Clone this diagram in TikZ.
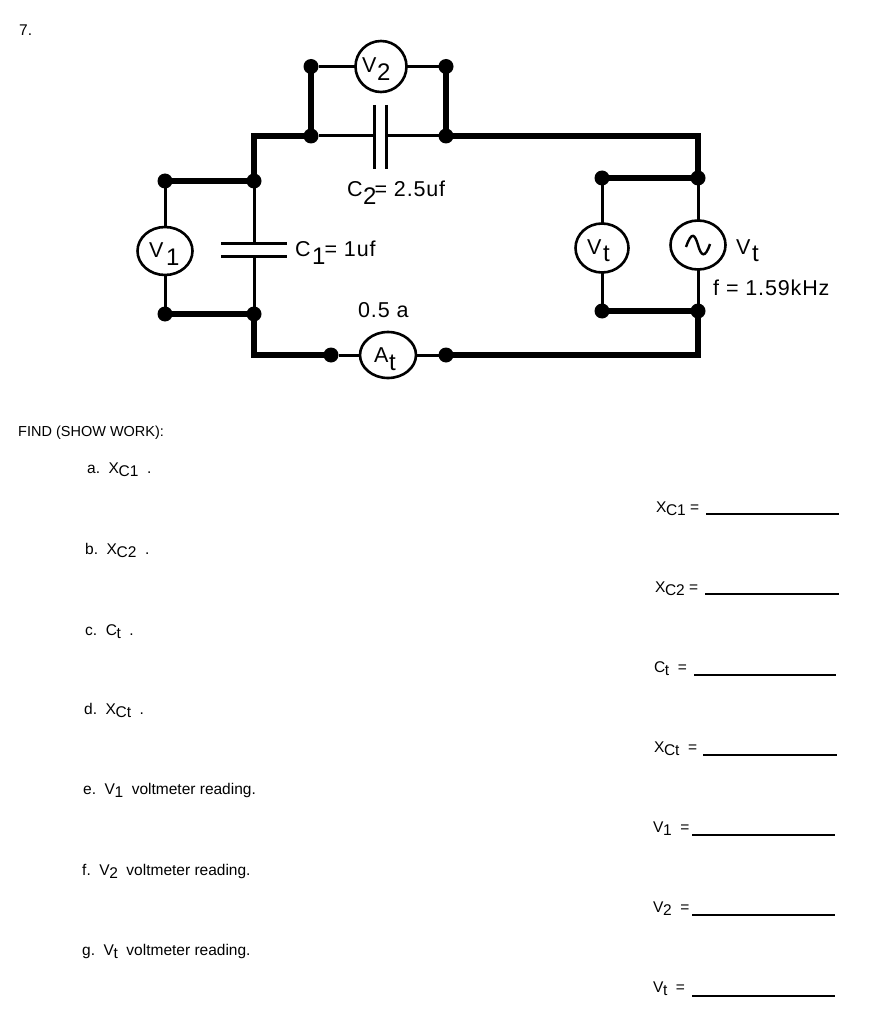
\documentclass[tikz,border=0pt]{standalone}
\usepackage{fontspec}
\setmainfont{Liberation Sans}
\newfontfamily\cfont[LetterSpace=4]{Liberation Sans}
\usetikzlibrary{shapes.geometric}
\tikzset{
 dotnode/.style={circle,fill=black,draw=none,inner sep=0pt,outer sep=0pt,minimum size=15pt},
 thickwire/.style={line width=6pt,line cap=rect},
 thinwire/.style={line width=3pt},
 plate/.style={line width=3pt},
 meter/.style={ellipse,draw=black,line width=2.6pt,fill=white,inner sep=0pt,outer sep=0pt,minimum width=55pt,minimum height=48pt},
 ctext/.style={inner sep=0pt,anchor=base west,font=\cfont\fontsize{21.5}{21.5}\selectfont},
 qtext/.style={inner sep=0pt,anchor=base west,font=\fontsize{15.5}{15.5}\selectfont},
 answer/.style={line width=1.2pt}
}
\newcommand{\sbs}[1]{\kern-0.5pt\raisebox{-3pt}{\fontsize{15.5}{15.5}\selectfont #1}}
\newcommand{\mbs}[2]{#1\raisebox{-8pt}{\kern0.5pt\fontsize{24}{24}\selectfont #2}}
\begin{document}
\begin{tikzpicture}[x=1pt,y=-1pt]
\useasboundingbox (0,0) rectangle (870,1024);
% junctions
\node[dotnode] (a) at (311,66.5) {};
\node[dotnode] (b) at (446,66.5) {};
\node[dotnode] (c) at (311,136) {};
\node[dotnode] (d) at (446,136) {};
\node[dotnode] (e) at (254,181) {};
\node[dotnode] (f) at (165,181) {};
\node[dotnode] (g) at (254,314) {};
\node[dotnode] (h) at (165,314) {};
\node[dotnode] (i) at (331,355) {};
\node[dotnode] (j) at (446,355) {};
\node[dotnode] (k) at (698,178) {};
\node[dotnode] (l) at (602,178) {};
\node[dotnode] (m) at (698,311) {};
\node[dotnode] (n) at (602,311) {};
% corners and capacitor contacts
\coordinate (tl) at (254,136);
\coordinate (tr) at (698,136);
\coordinate (bl) at (254,355);
\coordinate (br) at (698,355);
\coordinate (c2a) at (374,136);
\coordinate (c2b) at (386,136);
\coordinate (c1a) at (254,243);
\coordinate (c1b) at (254,256);
% meters
\node[meter,minimum width=51pt,minimum height=51pt] (V2) at (381,66.5) {};
\node[meter] (V1) at (165,251) {};
\node[meter,minimum width=56pt,minimum height=46pt] (At) at (388,355) {};
\node[meter,minimum width=53pt,minimum height=49pt] (Vm) at (602,248) {};
\node[meter,minimum width=55pt,minimum height=49pt] (S) at (698,245) {};
% wires
\draw[thickwire] (c.center) -- (tl) -- (e.center) -- (f.center);
\draw[thickwire] (c.center) -- (a.center);
\draw[thickwire] (d.center) -- (b.center);
\draw[thickwire] (d.center) -- (tr) -- (k.center) -- (l.center);
\draw[thickwire] (g.center) -- (h.center);
\draw[thickwire] (g.center) -- (bl) -- (i.center);
\draw[thickwire] (j.center) -- (br) -- (m.center) -- (n.center);
\draw[thinwire] (a) -- (V2);
\draw[thinwire] (V2) -- (b);
\draw[thinwire] (c) -- (c2a);
\draw[thinwire] (c2b) -- (d);
\draw[thinwire] (e) -- (c1a);
\draw[thinwire] (c1b) -- (g);
\draw[thinwire] (f) -- (V1);
\draw[thinwire] (V1) -- (h);
\draw[thinwire] (i) -- (At);
\draw[thinwire] (At) -- (j);
\draw[thinwire] (l) -- (Vm);
\draw[thinwire] (Vm) -- (n);
\draw[thinwire] (k) -- (S);
\draw[thinwire] (S) -- (m);
% capacitor plates
\draw[plate] (374,105) -- (374,169);
\draw[plate] (386,105) -- (386,169);
\draw[plate] (221,243) -- (287,243);
\draw[plate] (221,256) -- (287,256);
% sine
\draw[line width=2.4pt] (686,247) .. controls (692,230) and (695,235) .. (698,245) .. controls (701,256) and (705,259) .. (710,244);
% meter labels
\node[ctext] (tV2) at (362,73) {\mbs{V}{2}};
\node[ctext] (tV1) at (149,257) {\mbs{V}{\kern2pt 1}};
\node[ctext] (tAt) at (374,362) {\mbs{A}{t}};
\node[ctext] (tVm) at (587,254) {\mbs{V}{\kern1pt t}};
\node[ctext] (tVs) at (736,254) {\mbs{V}{\kern1pt t}};
\node[ctext] (tC2) at (347,197) {\mbs{C}{2}\kern-2pt= 2.5uf};
\node[ctext] (tC1) at (295,256) {\mbs{C}{\kern1pt 1}\kern-1pt= 1uf};
\node[ctext] (tI) at (358,317) {0.5 a};
\node[ctext] (tF) at (713,295) {f = 1.59kHz};
% text
\node[qtext] (n7) at (19,36) {7.};
\node[qtext,font=\fontsize{14.5}{14.5}\selectfont] (find) at (18,436) {FIND (SHOW WORK):};
\node[qtext] (qa) at (87,473) {a.~~X\sbs{C1}~~.};
\node[qtext] (qb) at (85,554) {b.~~X\sbs{C2}~~.};
\node[qtext] (qc) at (85,635) {c.~~C\sbs{t}~~.};
\node[qtext] (qd) at (84,714) {d.~~X\sbs{Ct}~~.};
\node[qtext] (qe) at (83,794) {e.~~V\sbs{1}~~voltmeter reading.};
\node[qtext] (qf) at (82,875) {f.~~V\sbs{2}~~voltmeter reading.};
\node[qtext] (qg) at (82,955) {g.~~V\sbs{t}~~voltmeter reading.};
% answers
\node[qtext] (a1) at (656,512) {X\sbs{C1} =};
\node[qtext] (a2) at (655,592) {X\sbs{C2} =};
\node[qtext] (a3) at (654,672) {C\sbs{t}~~=};
\node[qtext] (a4) at (654,752) {X\sbs{Ct}~~=};
\node[qtext] (a5) at (653,832) {V\sbs{1}~~=};
\node[qtext] (a6) at (653,912) {V\sbs{2}~~=};
\node[qtext] (a7) at (653,992) {V\sbs{t}~~=};
\draw[answer] (706,514) -- (839,514);
\draw[answer] (705,594) -- (839,594);
\draw[answer] (694,675) -- (836,675);
\draw[answer] (703,755) -- (837,755);
\draw[answer] (692,835) -- (835,835);
\draw[answer] (692,915) -- (835,915);
\draw[answer] (692,996) -- (835,996);
\end{tikzpicture}
\end{document}
